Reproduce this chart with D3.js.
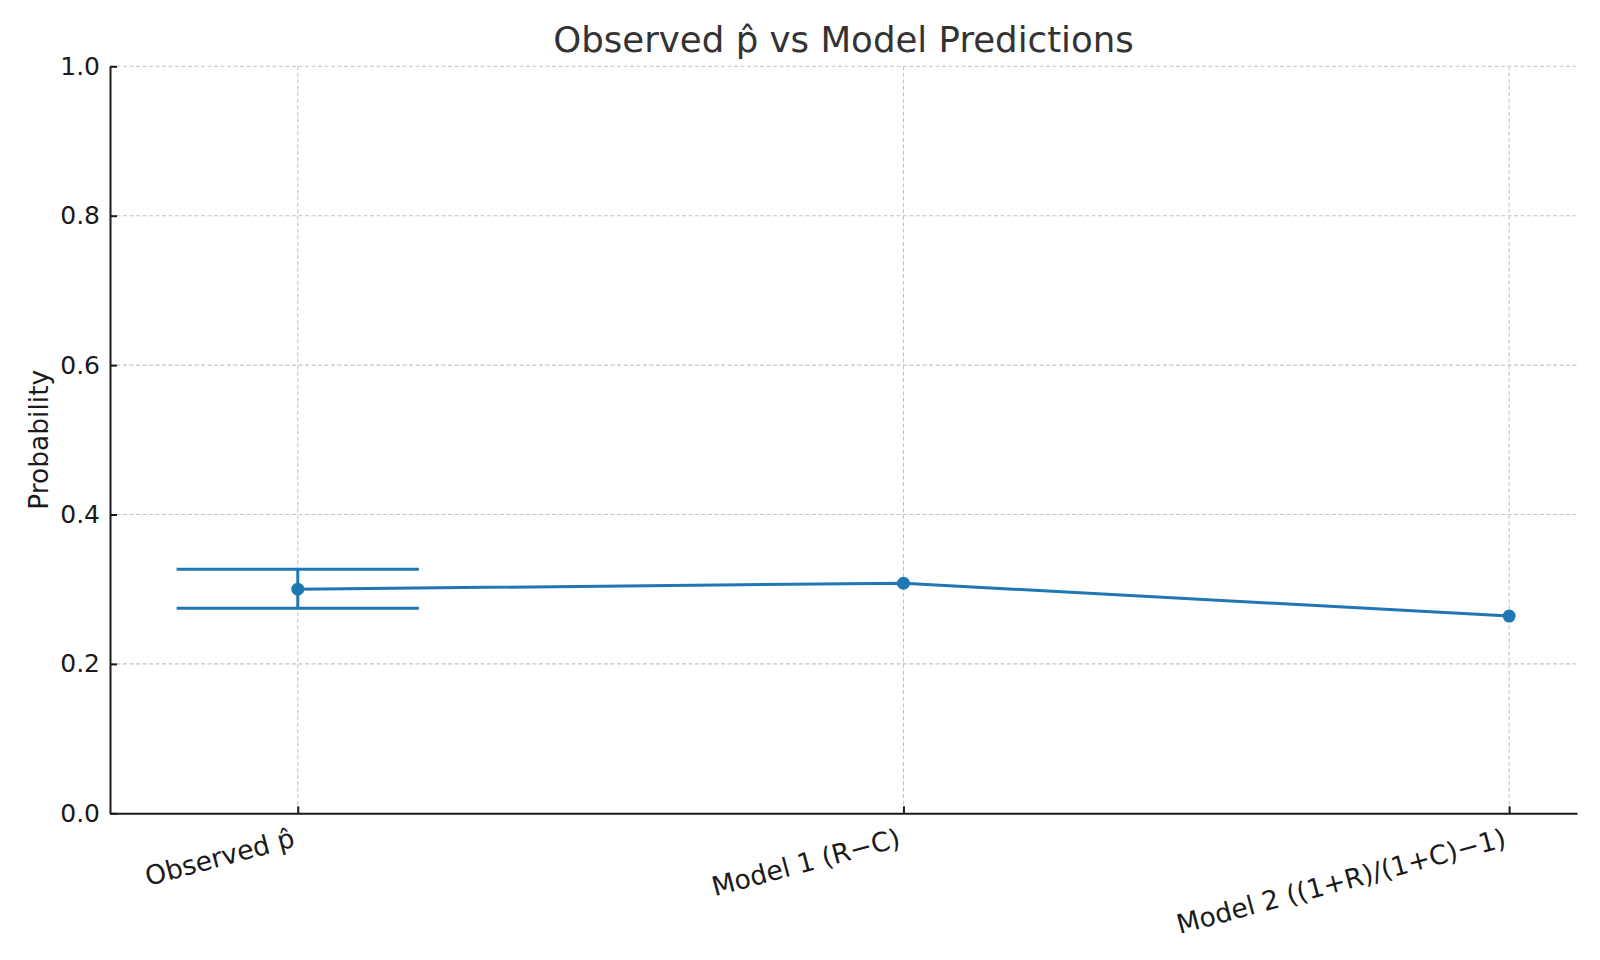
<!DOCTYPE html>
<html><head><meta charset="utf-8">
<script src="https://cdn.jsdelivr.net/npm/d3@7"></script>
<style>body{margin:0;background:#fff}svg{display:block}text{font-family:"DejaVu Sans",sans-serif}</style>
</head><body><svg id="c" width="1600" height="960"></svg>
<script>
const categories = ["Observed p\u0302", "Model 1 (R\u2212C)", "Model 2 ((1+R)/(1+C)\u22121)"];
const values = [0.300, 0.308, 0.264];
const errLow = [0.2744, null, null];
const errHigh = [0.3266, null, null];
const yTicks = [0.0, 0.2, 0.4, 0.6, 0.8, 1.0];
const title = "Observed p\u0302 vs Model Predictions";
const yLabel = "Probability";

const W = 1600, H = 960;
const m = {left:110, right:1577, top:66.3, bottom:813.3};
const color = "#1f77b4";
const svg = d3.select("#c");

const x = d3.scaleLinear().domain([-0.31, 2.112]).range([m.left, m.right]);
const y = d3.scaleLinear().domain([0, 1]).range([m.bottom, m.top]);

// grid
const grid = svg.append("g");
grid.selectAll("line.h").data(yTicks.filter(d=>d>0)).join("line")
  .attr("x1", m.left).attr("x2", m.right).attr("y1", d=>y(d)).attr("y2", d=>y(d))
  .attr("stroke","#c4c4c4").attr("stroke-width",1.1).attr("stroke-dasharray","4,2.5");
grid.selectAll("line.v").data(categories).join("line")
  .attr("x1", (d,i)=>x(i)).attr("x2", (d,i)=>x(i)).attr("y1", m.top).attr("y2", m.bottom)
  .attr("stroke","#c4c4c4").attr("stroke-width",1.1).attr("stroke-dasharray","4,2.5");

// axes
const yAxis = d3.axisLeft(y).tickValues(yTicks).tickFormat(d3.format(".1f")).tickSizeInner(-7).tickSizeOuter(0).tickPadding(10);
const gy = svg.append("g").attr("transform",`translate(${m.left},0)`).call(yAxis);
gy.select(".domain").attr("stroke","#1a1a1a").attr("stroke-width",2);
gy.selectAll(".tick line").attr("stroke","#1a1a1a").attr("stroke-width",2);
gy.selectAll(".tick text").attr("font-size",25).attr("fill","#1a1a1a").attr("font-family","DejaVu Sans");

const xAxis = d3.axisBottom(x).tickValues([0,1,2]).tickFormat("").tickSizeInner(-7).tickSizeOuter(0);
const gx = svg.append("g").attr("transform",`translate(0,${m.bottom})`).call(xAxis);
gx.select(".domain").attr("stroke","#1a1a1a").attr("stroke-width",2);
gx.selectAll(".tick line").attr("stroke","#1a1a1a").attr("stroke-width",2);

// x tick labels rotated
const fs = 26.6, ang = 15, hgt = fs*1.17;
svg.append("g").selectAll("g").data(categories).join("g")
  .attr("transform",(d,i)=>`translate(${x(i) - hgt*Math.sin(ang*Math.PI/180)},${m.bottom+9}) rotate(${-ang})`)
  .append("text").attr("text-anchor","end").attr("y", fs*0.93)
  .attr("font-size",fs).attr("fill","#1a1a1a").text(d=>d);

// error bar
const capHalf = 0.2;
const eb = svg.append("g");
values.forEach((v,i)=>{
  if(errLow[i]==null) return;
  eb.append("line").attr("x1",x(i)).attr("x2",x(i)).attr("y1",y(errLow[i])).attr("y2",y(errHigh[i]))
    .attr("stroke",color).attr("stroke-width",3);
  [errLow[i], errHigh[i]].forEach(e=>{
    eb.append("line").attr("x1",x(i-capHalf)).attr("x2",x(i+capHalf)).attr("y1",y(e)).attr("y2",y(e))
      .attr("stroke",color).attr("stroke-width",3);
  });
});

// line
svg.append("path").datum(values)
  .attr("d", d3.line().x((d,i)=>x(i)).y(d=>y(d)))
  .attr("fill","none").attr("stroke",color).attr("stroke-width",3);
svg.append("g").selectAll("circle").data(values).join("circle")
  .attr("cx",(d,i)=>x(i)).attr("cy",d=>y(d)).attr("r",6.5).attr("fill",color);

// title
svg.append("text").attr("x",(m.left+m.right)/2).attr("y",52).attr("text-anchor","middle")
  .attr("font-size",35.6).attr("fill","#333").text(title);
// y label
svg.append("text").attr("transform",`translate(38.5,${(m.top+m.bottom)/2}) rotate(-90)`)
  .attr("text-anchor","middle").attr("dominant-baseline","central").attr("font-size",26.5).attr("fill","#1a1a1a").text(yLabel);
</script></body></html>
